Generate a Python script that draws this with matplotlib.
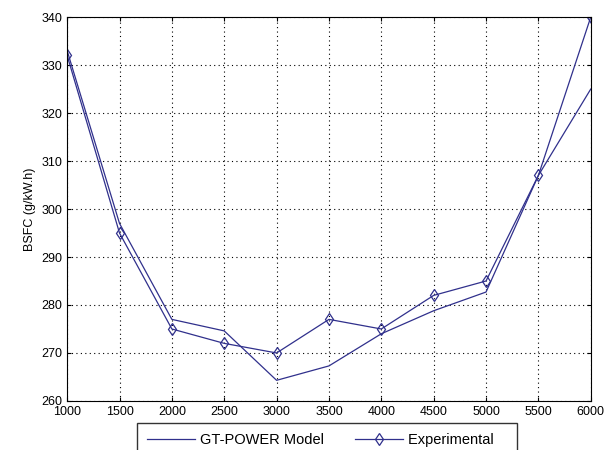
import matplotlib
matplotlib.use('Agg')
import matplotlib.pyplot as plt

plt.rcParams['font.family'] = ['Liberation Sans', 'DejaVu Sans']

rpm = [1000, 1500, 2000, 2500, 3000, 3500, 4000, 4500, 5000, 5500, 6000]
gt_power = [333, 297, 277, 274.6, 264.3, 267.3, 274, 278.8, 282.7, 307, 325]
experimental = [332, 295, 275, 272, 270, 277, 275, 282, 285, 307, 340]

color = '#30308c'

fig = plt.figure(figsize=(6.16, 4.5), dpi=100)
ax = fig.add_axes([0.109, 0.109, 0.85, 0.853])

ax.plot(rpm, gt_power, color=color, lw=0.9, label='GT-POWER Model')
ax.plot(rpm, experimental, color=color, lw=0.9, marker='d', markersize=6,
        markerfacecolor='none', markeredgecolor=color, markeredgewidth=0.9,
        label='Experimental   ')

ax.set_xlim(1000, 6000)
ax.set_ylim(260, 340)
ax.set_xticks(range(1000, 6001, 500))
ax.set_yticks(range(260, 341, 10))
ax.set_ylabel('BSFC (g/kW.h)', fontsize=9)
ax.tick_params(direction='in', top=True, right=True, labelsize=9, length=3)
ax.grid(True, linestyle=(0, (1, 3)), color='black', linewidth=0.8)

ax.legend(loc='upper left', bbox_to_anchor=(137 / 616, 27 / 450),
          bbox_transform=fig.transFigure, ncol=2, fontsize=10.5,
          frameon=True, fancybox=False, edgecolor='black',
          borderpad=0.7, borderaxespad=0, handlelength=3.3,
          handletextpad=0.35, columnspacing=2.1)

fig.savefig('out.png', dpi=100)
